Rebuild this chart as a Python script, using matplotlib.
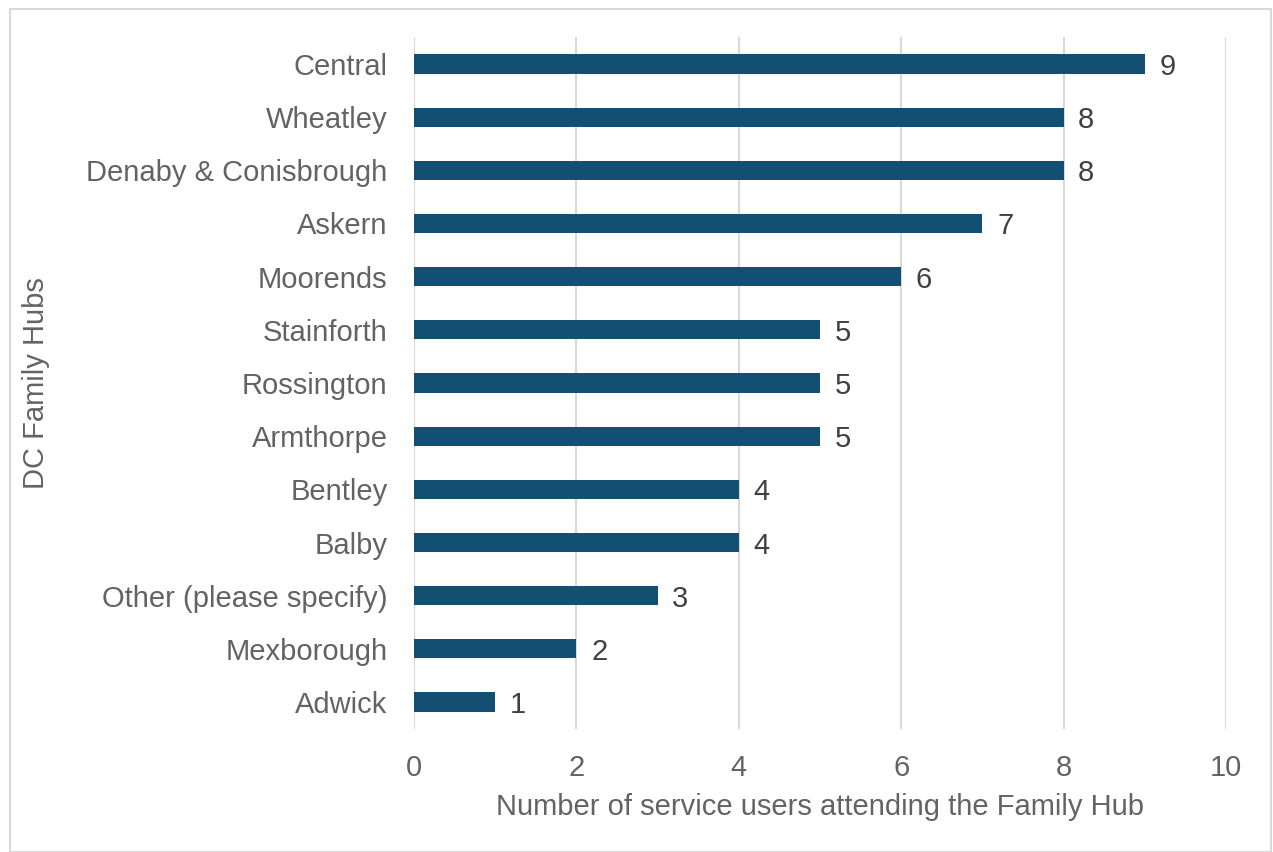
import matplotlib
matplotlib.use("Agg")
import matplotlib.pyplot as plt
from matplotlib.patches import Rectangle

plt.rcParams['font.family'] = ['Liberation Sans', 'DejaVu Sans']

hubs = ['Central', 'Wheatley', 'Denaby & Conisbrough', 'Askern', 'Moorends',
        'Stainforth', 'Rossington', 'Armthorpe', 'Bentley', 'Balby',
        'Other (please specify)', 'Mexborough', 'Adwick']
counts = [9, 8, 8, 7, 6, 5, 5, 5, 4, 4, 3, 2, 1]

bar_col = '#124f73'
txt_col = '#636363'
fs = 21

fig = plt.figure(figsize=(12.73, 8.52), dpi=100)
ax = fig.add_axes([414/1273, 1 - 728.6/852, (1226 - 414)/1273, (728.6 - 37.4)/852])

pos = list(range(len(hubs)))
ax.barh(pos, counts, height=0.36, color=bar_col, zorder=3)
for p, c in zip(pos, counts):
    ax.text(c + 0.18, p, str(c), va='center_baseline', ha='left', fontsize=fs, color='#404040')

ax.set_yticks(pos)
ax.set_yticklabels(hubs)
ax.set_ylim(len(hubs) - 0.5, -0.5)
ax.set_xlim(0, 10)
ax.set_xticks(range(0, 11, 2))
ax.tick_params(axis='both', length=0, labelsize=fs, labelcolor=txt_col)
ax.tick_params(axis='y', pad=19)
ax.tick_params(axis='x', pad=18)
ax.grid(axis='x', color='#d9d9d9', linewidth=1.5, zorder=0)
for s in ax.spines.values():
    s.set_visible(False)

ax.set_xlabel('Number of service users attending the Family Hub', fontsize=fs, color=txt_col, labelpad=8)
ax.set_ylabel('DC Family Hubs', fontsize=fs, color=txt_col, labelpad=26)

fig.patches.append(Rectangle((10/1273, 0.5/852), 1261/1273, 843/852, transform=fig.transFigure,
                             fill=False, edgecolor='#d9d9d9', linewidth=1.5))

fig.savefig('out.png', dpi=100)
